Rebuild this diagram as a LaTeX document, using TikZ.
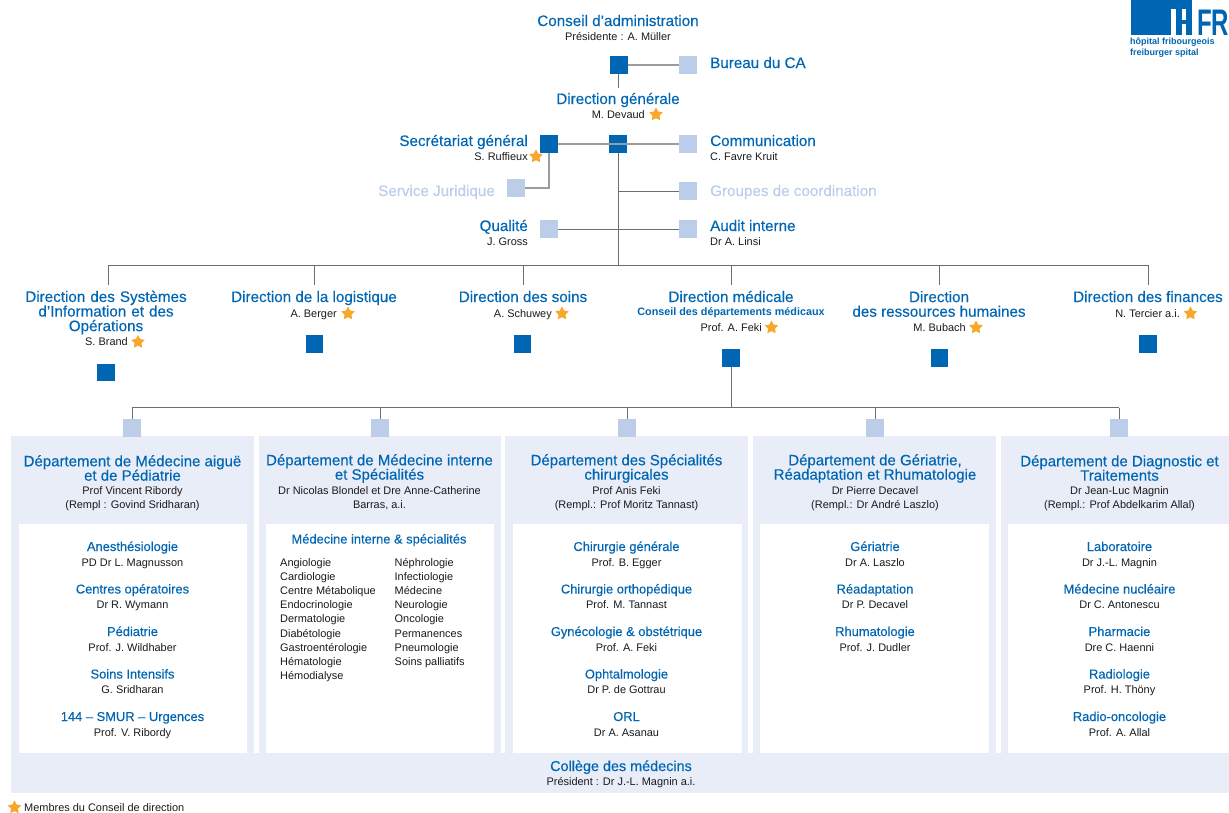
\documentclass[tikz,border=0pt]{standalone}
\usepackage{fontspec}
\setmainfont{Liberation Sans}
\newfontfamily\medf[FakeBold=0.3]{Liberation Sans}
\usetikzlibrary{shapes.geometric}
\definecolor{hfr}{HTML}{0066B3}
\definecolor{lightsq}{HTML}{BCCDEA}
\definecolor{panel}{HTML}{E8EDF8}
\definecolor{faded}{HTML}{BCCDEA}
\definecolor{linec}{HTML}{6E6E6E}
\definecolor{linel}{HTML}{9C9C9C}
\definecolor{starc}{HTML}{F9A72B}
\definecolor{txt}{HTML}{1A1A1A}
\newcommand{\tfont}{\medf\fontsize{15.2}{14.6}\selectfont}
\newcommand{\dfont}{\medf\fontsize{15}{14.4}\selectfont}
\newcommand{\sfont}{\fontsize{10.95}{14.3}\selectfont}
\newcommand{\ufont}{\medf\fontsize{12.9}{14}\selectfont}
\tikzset{
  x=1pt,y=-1pt,
  darksq/.style={fill=hfr,draw=none,minimum size=17.5pt,inner sep=0pt,outer sep=0pt},
  lightbox/.style={fill=lightsq,draw=none,minimum size=17.5pt,inner sep=0pt,outer sep=0pt},
  ttlm/.style={text=hfr,font=\tfont,inner sep=0pt,align=center},
  ttl/.style={ttlm,text height=11pt,text depth=1pt},
  deptttl/.style={text=hfr,font=\dfont,inner sep=0pt,align=center},
  subm/.style={text=txt,font=\sfont,inner sep=0pt,align=center},
  sub/.style={subm,text height=8pt,text depth=0pt},
  unit/.style={text=hfr,font=\ufont,inner sep=0pt,align=center,text height=10pt,text depth=2pt},
  fadedttl/.style={text=faded,font=\tfont,inner sep=0pt,text height=11pt,text depth=1pt},
  wire/.style={draw=linec,line width=0.9pt},
  wirel/.style={draw=linel,line width=1.2pt},
  strela/.style={star,star points=5,star point ratio=1.9,fill=starc,draw=none,minimum size=14pt,inner sep=0pt},
  panelbox/.style={fill=panel,draw=none},
  whitebox/.style={fill=white,draw=none},
}
\newcommand{\unitlist}[2]{%
  \foreach \t/\p [count=\i from 0] in {#2}{
    \node[unit] (u#1\i) at (\xc,{547+42.5*\i}) {\t};
    \node[sub] (p#1\i) at (\xc,{562+42.5*\i}) {\p};
  }}
\begin{document}
\begin{tikzpicture}
\useasboundingbox (0,0) rectangle (1229,812);
% panels
\fill[panelbox] (11,436) rectangle (254,753);
\fill[panelbox] (259,436) rectangle (501,753);
\fill[panelbox] (505,436) rectangle (748,753);
\fill[panelbox] (753,436) rectangle (996,753);
\fill[panelbox] (1001,436) rectangle (1229,753);
\fill[panelbox] (11,753) rectangle (1229,793);
\fill[whitebox] (19,524) rectangle (247,753);
\fill[whitebox] (266,524) rectangle (494,753);
\fill[whitebox] (513,524) rectangle (742,753);
\fill[whitebox] (760,524) rectangle (989,753);
\fill[whitebox] (1008,524) rectangle (1229,753);
% logo
\fill[hfr] (1131,0) rectangle (1192,9);
\fill[hfr] (1131,9) rectangle (1171,35);
\fill[hfr] (1175.5,9) rectangle (1182,35);
\fill[hfr] (1186,9) rectangle (1192,35);
\fill[hfr] (1182,20) rectangle (1186,24);
\node[anchor=base west,inner sep=0pt,text=hfr,xscale=0.65,font=\fontsize{37}{37}\bfseries\selectfont,text depth=0pt] (logofr) at (1197,35) {FR};
\node[anchor=north west,inner sep=0pt,text=hfr,font=\fontsize{9}{10.2}\bfseries\selectfont,align=left] (logotxt) at (1130,38) {hôpital fribourgeois\\freiburger spital};
% top squares
\node[darksq] (ca) at (619,65) {};
\node[lightbox] (bureau) at (688,65) {};
\node[darksq] (sg) at (549,144) {};
\node[darksq] (dg) at (618,144) {};
\node[lightbox] (comm) at (688,144) {};
\node[lightbox] (jur) at (516,188) {};
\node[lightbox] (grp) at (688,191) {};
\node[lightbox] (qual) at (549,229) {};
\node[lightbox] (audit) at (688,229) {};
% top text
\node[ttl] (tca) at (618,21) {Conseil d’administration};
\node[sub] (sca) at (618,36) {Présidente : A. Müller};
\node[ttl,anchor=west] (tbur) at (710,63) {Bureau du CA};
\node[ttl] (tdg) at (618,99) {Direction générale};
\node[sub,anchor=east] (sdg) at (645,114) {M. Devaud};
\node[strela] (stdg) at (656,114.5) {};
\node[ttl,anchor=east] (tsg) at (528,141) {Secrétariat général};
\node[sub,anchor=east] (ssg) at (528,156) {S. Ruffieux};
\node[strela] (stsg) at (536,156.5) {};
\node[ttl,anchor=west] (tcomm) at (710,141) {Communication};
\node[sub,anchor=west] (scomm) at (710,156) {C. Favre Kruit};
\node[fadedttl,anchor=east] (tjur) at (495,191) {Service Juridique};
\node[fadedttl,anchor=west] (tgrp) at (710,191) {Groupes de coordination};
\node[ttl,anchor=east] (tqual) at (528,226) {Qualité};
\node[sub,anchor=east] (squal) at (528,241) {J. Gross};
\node[ttl,anchor=west] (taud) at (710,226) {Audit interne};
\node[sub,anchor=west] (saud) at (710,241) {Dr A. Linsi};
% directions
\node[ttlm,text width=180pt] (d1) at (106,312.5) {Direction des Systèmes\\d’Information et des\\Opérations};
\node[sub,anchor=east] (d1s) at (128,341) {S. Brand};
\node[strela] (d1st) at (138,342) {};
\node[ttl] (d2) at (314,297) {Direction de la logistique};
\node[sub,anchor=east] (d2s) at (337,313) {A. Berger};
\node[strela] (d2st) at (348,313.5) {};
\node[ttl] (d3) at (523,297) {Direction des soins};
\node[sub,anchor=east] (d3s) at (552,313) {A. Schuwey};
\node[strela] (d3st) at (562,313.5) {};
\node[ttl] (d4) at (731,297) {Direction médicale};
\node[text=hfr,inner sep=0pt,font=\fontsize{10.8}{12}\bfseries\selectfont,text height=8pt,text depth=2pt] (d4b) at (731,312) {Conseil des départements médicaux};
\node[sub,anchor=east] (d4s) at (762,327) {Prof. A. Feki};
\node[strela] (d4st) at (771.5,327.5) {};
\node[ttlm] (d5) at (939,304) {Direction\\des ressources humaines};
\node[sub,anchor=east] (d5s) at (966,327) {M. Bubach};
\node[strela] (d5st) at (976,327.5) {};
\node[ttl] (d6) at (1148,297) {Direction des finances};
\node[sub,anchor=east] (d6s) at (1180,313) {N. Tercier a.i.};
\node[strela] (d6st) at (1190.5,313.5) {};
\node[darksq] (q1) at (106,372.5) {};
\node[darksq] (q2) at (314.5,344) {};
\node[darksq] (q3) at (522.5,344) {};
\node[darksq] (q4) at (731,358) {};
\node[darksq] (q5) at (939.5,358) {};
\node[darksq] (q6) at (1148,344) {};
% connectors
\coordinate (busL) at (108,265);
\coordinate (busR) at (1148.5,265);
\coordinate (busM) at (618,265);
\coordinate (t1) at (108,285);
\coordinate (t2) at (314,285);
\coordinate (t3) at (523,285);
\coordinate (t4) at (731,285);
\coordinate (t5) at (939,285);
\coordinate (t6) at (1148.5,285);
\coordinate (cadown) at (618,88);
\draw[wirel] (ca) -- (bureau);
\draw[wire] (ca.south -| cadown) -- (cadown);
\draw[wirel] (sg) -- (comm);
\draw[wire] (dg) -- (busM);
\draw[wirel] (sg.south) |- (jur.east);
\draw[wire] (dg |- grp) -- (grp);
\draw[wire] (qual) -- (audit);
\draw[wire] (busL) -- (busR);
\foreach \n in {1,...,6}{\draw[wire] (t\n |- busL) -- (t\n);}
% departments
\foreach \n/\x in {1/132,2/380,3/627,4/875,5/1119}{\node[lightbox] (ds\n) at (\x,428) {};}
\coordinate (dbL) at (132,407.5);
\coordinate (dbR) at (1119,407.5);
\draw[wire] (dbL) -- (dbR);
\draw[wire] (q4) -- (q4 |- dbL);
\foreach \n in {1,...,5}{\draw[wire] (ds\n) -- (ds\n |- dbL);}
% department headers
\node[deptttl] (h1) at (132.5,468) {Département de Médecine aiguë\\et de Pédiatrie};
\node[subm] (hs1) at (132.5,498.5) {Prof Vincent Ribordy\\(Rempl : Govind Sridharan)};
\node[deptttl] (h2) at (379.5,468.5) {Département de Médecine interne\\et Spécialités};
\node[subm] (hs2) at (379.5,498.5) {Dr Nicolas Blondel et Dre Anne-Catherine\\Barras, a.i.};
\node[deptttl] (h3) at (626.5,468.5) {Département des Spécialités\\chirurgicales};
\node[subm] (hs3) at (626.5,498.5) {Prof Anis Feki\\(Rempl.: Prof Moritz Tannast)};
\node[deptttl] (h4) at (875,468.5) {Département de Gériatrie,\\Réadaptation et Rhumatologie};
\node[subm] (hs4) at (875,498.5) {Dr Pierre Decavel\\(Rempl.: Dr André Laszlo)};
\node[deptttl] (h5) at (1119.5,468) {Département de Diagnostic et\\Traitements};
\node[subm] (hs5) at (1119.5,498.5) {Dr Jean-Luc Magnin\\(Rempl.: Prof Abdelkarim Allal)};
% units
\def\xc{132.5}
\unitlist{a}{Anesthésiologie/PD Dr L. Magnusson,Centres opératoires/Dr R. Wymann,Pédiatrie/Prof. J. Wildhaber,Soins Intensifs/G. Sridharan,144 – SMUR – Urgences/Prof. V. Ribordy}
\def\xc{626.5}
\unitlist{c}{Chirurgie générale/Prof. B. Egger,Chirurgie orthopédique/Prof. M. Tannast,Gynécologie \& obstétrique/Prof. A. Feki,Ophtalmologie/Dr P. de Gottrau,ORL/Dr A. Asanau}
\def\xc{875}
\unitlist{d}{Gériatrie/Dr A. Laszlo,Réadaptation/Dr P. Decavel,Rhumatologie/Prof. J. Dudler}
\def\xc{1119.5}
\unitlist{e}{Laboratoire/Dr J.-L. Magnin,Médecine nucléaire/Dr C. Antonescu,Pharmacie/Dre C. Haenni,Radiologie/Prof. H. Thöny,Radio-oncologie/Prof. A. Allal}
% medecine interne
\node[unit] (mi) at (379,539.5) {Médecine interne \& spécialités};
\foreach \t [count=\i from 0] in {Angiologie,Cardiologie,Centre Métabolique,Endocrinologie,Dermatologie,Diabétologie,Gastroentérologie,Hématologie,Hémodialyse}{
  \node[sub,anchor=west] (ml\i) at (280,{562+14.2*\i}) {\t};}
\foreach \t [count=\i from 0] in {Néphrologie,Infectiologie,Médecine,Neurologie,Oncologie,Permanences,Pneumologie,Soins palliatifs}{
  \node[sub,anchor=west] (mr\i) at (394.5,{562+14.2*\i}) {\t};}
% college
\node[ttl,font=\medf\fontsize{14.4}{14}\selectfont] (coll) at (621,766) {Collège des médecins};
\node[sub] (colls) at (621,781) {Président : Dr J.-L. Magnin a.i.};
% legend
\node[strela] (legst) at (14.5,807.5) {};
\node[sub,anchor=base west] (leg) at (24,811.5) {Membres du Conseil de direction};
\end{tikzpicture}
\end{document}
